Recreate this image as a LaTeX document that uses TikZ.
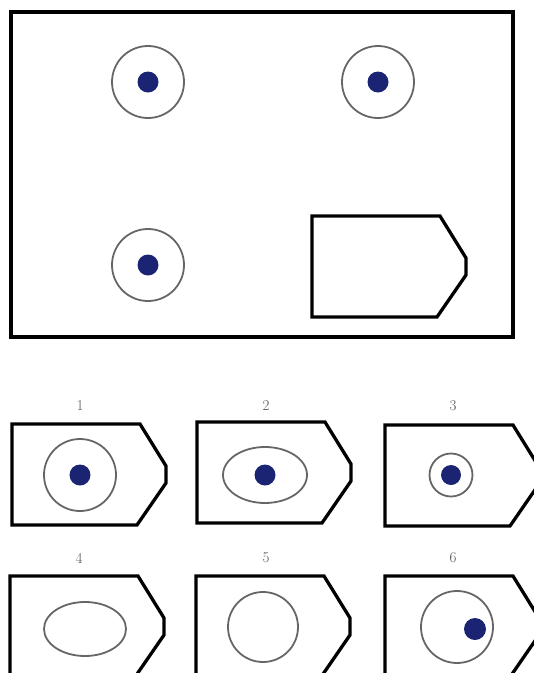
\documentclass[tikz,border=0pt]{standalone}
\definecolor{dotblue}{HTML}{1B2472}
\definecolor{ringgray}{HTML}{666666}
\definecolor{labelgray}{HTML}{555555}
\tikzset{
  frameline/.style={line width=4pt, black},
  tagline/.style={line width=3.3pt, black, line join=miter},
  ring/.style={line width=1.8pt, draw=ringgray},
  dot/.style={fill=dotblue},
  numlabel/.style={text=labelgray, font=\fontsize{15}{17}\selectfont, inner sep=0pt},
  tagbox/.pic={\draw[tagline] (0,0) -- (128,0) -- (154,42) -- (154,59) -- (125,101) -- (0,101) -- cycle;}
}
\begin{document}
\begin{tikzpicture}[x=1pt,y=-1pt]
\useasboundingbox (0,0) rectangle (534,673);
\clip (0,0) rectangle (534,673);
% main frame
\draw[frameline] (11,12) rectangle (513,337);
% rings in frame
\draw[ring] (148,82) circle (36);
\fill[dot] (148,82) circle (10.5);
\draw[ring] (378,82) circle (36);
\fill[dot] (378,82) circle (10.5);
\draw[ring] (148,265) circle (36);
\fill[dot] (148,265) circle (10.5);
\pic at (312,216) {tagbox};
% options row 1
\node[numlabel] (l1) at (80,406) {1};
\node[numlabel] (l2) at (266,406) {2};
\node[numlabel] (l3) at (453,406) {3};
\pic at (12,424) {tagbox};
\draw[ring] (80,475) circle (36);
\fill[dot] (80,475) circle (10.5);
\pic at (197,422) {tagbox};
\draw[ring] (265,475) ellipse (42 and 28);
\fill[dot] (265,475) circle (10.5);
\pic at (385,425) {tagbox};
\draw[ring] (451,475) circle (21.5);
\fill[dot] (451,475) circle (10);
% options row 2
\node[numlabel] (l4) at (79,558) {4};
\node[numlabel] (l5) at (266,558) {5};
\node[numlabel] (l6) at (453,558) {6};
\pic at (10,576) {tagbox};
\draw[ring] (85,629) ellipse (41 and 27);
\pic at (196,576) {tagbox};
\draw[ring] (263,627) circle (35);
\pic at (385,576) {tagbox};
\draw[ring] (457,627) circle (36);
\fill[dot] (475,629) circle (11);
\end{tikzpicture}
\end{document}
